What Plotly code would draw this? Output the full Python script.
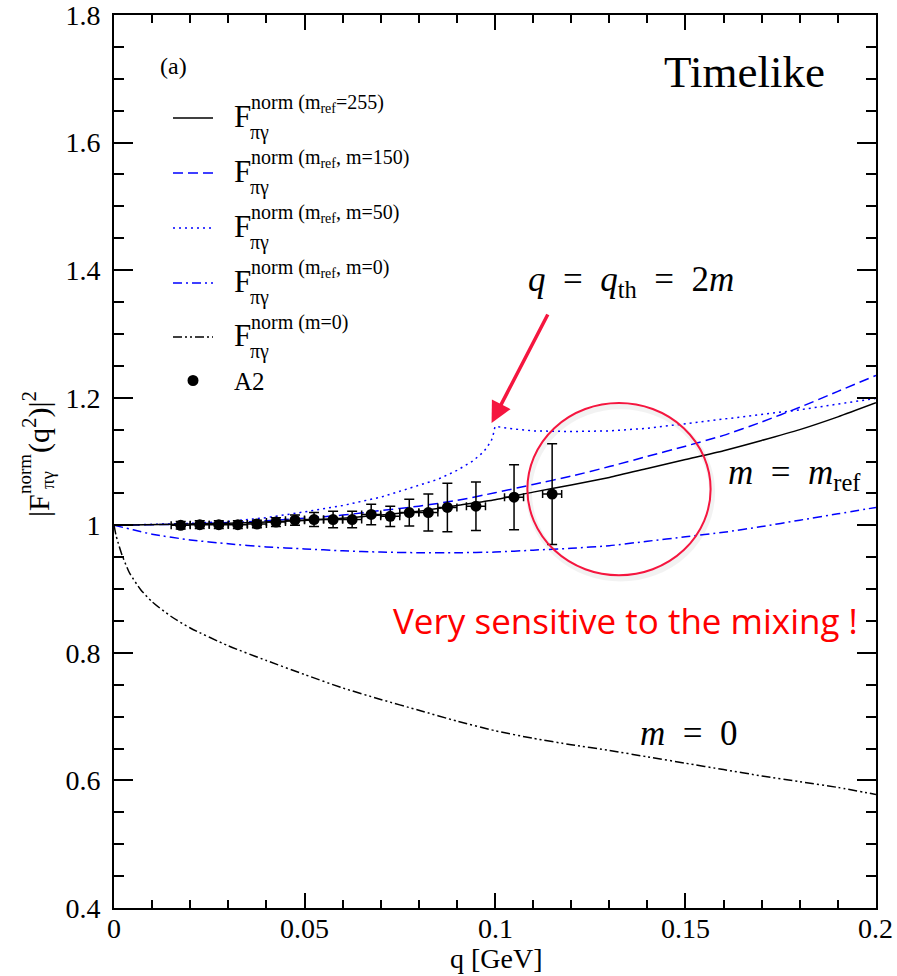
import plotly.graph_objects as go

# ---------------- data ----------------
# A2 data points
a2_q  = [0.0175, 0.0225, 0.0275, 0.0325, 0.0375, 0.0425, 0.0475, 0.0525, 0.0575,
         0.0625, 0.0675, 0.0725, 0.0775, 0.0825, 0.0875, 0.095, 0.105, 0.115]
a2_F  = [1.000, 1.001, 1.001, 1.001, 1.002, 1.005, 1.008, 1.009, 1.009,
         1.009, 1.017, 1.014, 1.020, 1.020, 1.028, 1.030, 1.044, 1.049]
a2_dF = [0.006, 0.006, 0.006, 0.006, 0.006, 0.007, 0.008, 0.011, 0.013,
         0.013, 0.016, 0.016, 0.021, 0.029, 0.038, 0.038, 0.051, 0.079]
a2_dq = [0.0025, 0.0025, 0.0025, 0.0025, 0.0025, 0.0025, 0.0025, 0.0025, 0.0025,
         0.0025, 0.0025, 0.0025, 0.0025, 0.0025, 0.0025, 0.0025, 0.0025, 0.0025]

# F^norm (m_ref = 255)  -- solid black
q_ref = [0.0, 0.02, 0.04, 0.06, 0.07, 0.08, 0.09, 0.10, 0.11, 0.12, 0.13, 0.14,
         0.15, 0.16, 0.17, 0.18, 0.19, 0.20]
F_ref = [1.000, 1.002, 1.005, 1.011, 1.016, 1.022, 1.031, 1.040, 1.052, 1.063, 1.075, 1.089,
         1.103, 1.117, 1.133, 1.150, 1.170, 1.192]

# F^norm (m_ref, m = 150)  -- dashed blue
q_150 = [0.0, 0.02, 0.04, 0.06, 0.07, 0.08, 0.09, 0.10, 0.11, 0.12, 0.13, 0.14,
         0.15, 0.16, 0.17, 0.18, 0.19, 0.20]
F_150 = [1.000, 1.002, 1.007, 1.016, 1.023, 1.030, 1.039, 1.051, 1.064, 1.077, 1.092, 1.108,
         1.124, 1.141, 1.162, 1.185, 1.210, 1.235]

# F^norm (m_ref, m = 50)  -- dotted blue, cusp at q = 2m = 0.1
q_50 = [0.0, 0.02, 0.03, 0.04, 0.05, 0.06, 0.07, 0.08, 0.085, 0.09, 0.094, 0.097,
        0.099, 0.0995, 0.100, 0.105, 0.11, 0.12, 0.13, 0.14, 0.15, 0.16, 0.17,
        0.18, 0.19, 0.20]
F_50 = [1.000, 1.003, 1.006, 1.012, 1.021, 1.031, 1.044, 1.062, 1.072, 1.086, 1.100, 1.115,
        1.132, 1.141, 1.155, 1.151, 1.148, 1.147, 1.148, 1.152, 1.159, 1.166, 1.173,
        1.181, 1.190, 1.199]

# F^norm (m_ref, m = 0)  -- dash-dot blue
q_m0r = [0.0, 0.005, 0.01, 0.02, 0.03, 0.04, 0.05, 0.06, 0.07, 0.08, 0.09, 0.10,
         0.11, 0.12, 0.13, 0.14, 0.15, 0.16, 0.17, 0.18, 0.19, 0.20]
F_m0r = [1.000, 0.993, 0.986, 0.977, 0.971, 0.966, 0.963, 0.960, 0.958, 0.957, 0.957, 0.958,
         0.961, 0.964, 0.968, 0.975, 0.982, 0.989, 0.998, 1.008, 1.018, 1.028]

# F^norm (m = 0)  -- dash-dot-dot black
q_m0 = [0.0, 0.0005, 0.001, 0.002, 0.004, 0.007, 0.01, 0.015, 0.02, 0.03, 0.04, 0.05, 0.06,
        0.07, 0.08, 0.09, 0.10, 0.11, 0.12, 0.13, 0.14, 0.15, 0.16, 0.17, 0.18,
        0.19, 0.20]
F_m0 = [1.000, 0.985, 0.974, 0.955, 0.926, 0.899, 0.880, 0.857, 0.839, 0.811, 0.788, 0.766, 0.745,
        0.727, 0.710, 0.693, 0.678, 0.666, 0.656, 0.647, 0.637, 0.627, 0.617, 0.607, 0.598,
        0.589, 0.578]

x_ticks = [0, 0.05, 0.1, 0.15, 0.2]
x_ticklabels = ["0", "0.05", "0.1", "0.15", "0.2"]
y_ticks = [0.4, 0.6, 0.8, 1.0, 1.2, 1.4, 1.6, 1.8]
y_ticklabels = ["0.4", "0.6", "0.8", "1", "1.2", "1.4", "1.6", "1.8"]

# ---------------- layout geometry (pixels) ----------------
FIG_W, FIG_H = 897, 976
L, R, T, B = 114, 876, 15, 908
PW, PH = R - L, B - T

def px(x):
    return (x - L) / PW

def py(y):
    return (B - y) / PH

SERIF = "Liberation Serif"
BLUE = "#0000ff"
RED = "#ff0000"
CRIMSON = "#f5163f"

DASH_150 = "10px,5px"
DOT_50 = "2px,4px"
DASHDOT = "9px,4px,2px,4px"
DASHDOTDOT = "9px,3px,2px,3px,2px,3px"

fig = go.Figure()

fig.add_trace(go.Scatter(x=q_m0, y=F_m0, mode="lines", line_shape="spline",
                         line=dict(color="black", width=1.5, dash=DASHDOTDOT, smoothing=0.6)))
fig.add_trace(go.Scatter(x=q_m0r, y=F_m0r, mode="lines", line_shape="spline",
                         line=dict(color=BLUE, width=1.5, dash=DASHDOT, smoothing=0.6)))
fig.add_trace(go.Scatter(x=q_50, y=F_50, mode="lines",
                         line=dict(color=BLUE, width=1.5, dash=DOT_50)))
fig.add_trace(go.Scatter(x=q_150, y=F_150, mode="lines", line_shape="spline",
                         line=dict(color=BLUE, width=1.5, dash=DASH_150, smoothing=0.6)))
fig.add_trace(go.Scatter(x=q_ref, y=F_ref, mode="lines", line_shape="spline",
                         line=dict(color="black", width=1.5, smoothing=0.6)))
fig.add_trace(go.Scatter(
    x=a2_q, y=a2_F, mode="markers",
    marker=dict(color="black", size=11, symbol="circle"),
    error_y=dict(type="data", array=a2_dF, visible=True, color="black",
                 thickness=1.5, width=5),
    error_x=dict(type="data", array=a2_dq, visible=True, color="black",
                 thickness=1.5, width=4),
))

shapes = []
annotations = []

# red circle (with faint shadow)
cx0, cx1 = 0.1085, 0.1566
cy0, cy1 = 0.9216, 1.1917
shapes.append(dict(type="circle", xref="x", yref="y",
                   x0=cx0 + 0.0004, x1=cx1 + 0.0004, y0=cy0 - 0.005, y1=cy1 - 0.005,
                   line=dict(color="rgba(0,0,0,0.05)", width=6), layer="below"))
shapes.append(dict(type="circle", xref="x", yref="y",
                   x0=cx0, x1=cx1, y0=cy0, y1=cy1,
                   line=dict(color=CRIMSON, width=2)))

# red arrow pointing to threshold
annotations.append(dict(x=0.0991, y=1.1604, xref="x", yref="y", text="",
                        showarrow=True, ax=57, ay=-110, arrowcolor=CRIMSON,
                        arrowwidth=3.5, arrowhead=2, arrowsize=1.2))

# texts
def ann(text, x, y, size, color="black", family=SERIF, xanchor="center", yanchor="middle", angle=0):
    annotations.append(dict(text=text, x=px(x), y=py(y), xref="paper", yref="paper",
                            showarrow=False, xanchor=xanchor, yanchor=yanchor,
                            textangle=angle,
                            font=dict(family=family, size=size, color=color)))

# x tick labels placed under the axis at the tick values
for v, t in zip(x_ticks, x_ticklabels):
    annotations.append(dict(text=t, x=v, y=py(911), xref="x", yref="paper",
                            showarrow=False, xanchor="center", yanchor="top",
                            font=dict(family=SERIF, size=28, color="black")))

SP = "\u2002"
ann("(a)", 173, 66, 24)
ann("Timelike", 744, 72, 45)
ann("<i>q</i>" + SP + "=" + SP + "<i>q</i><sub>th</sub>" + SP + "=" + SP + "2<i>m</i>", 631, 281, 35)
ann("<i>m</i>" + SP + "=" + SP + "<i>m</i><sub>ref</sub>", 794, 474, 35)
ann("<i>m</i>" + SP + "=" + SP + "0", 689, 733, 35)
ann("Very sensitive to the mixing !", 625, 620, 35, color=RED,
    family="Open Sans")

# x-axis title
ann("q [GeV]", 496, 959, 28)

# custom legend
leg_rows = [
    (118, dict(color="black", width=1.5), "norm (m<sub>ref</sub>=255)"),
    (173, dict(color=BLUE, width=1.5, dash=DASH_150), "norm (m<sub>ref</sub>, m=150)"),
    (228, dict(color=BLUE, width=1.5, dash=DOT_50), "norm (m<sub>ref</sub>, m=50)"),
    (283, dict(color=BLUE, width=1.5, dash=DASHDOT), "norm (m<sub>ref</sub>, m=0)"),
    (337, dict(color="black", width=1.5, dash=DASHDOTDOT), "norm (m=0)"),
]
for yy, lstyle, sup in leg_rows:
    shapes.append(dict(type="line", xref="paper", yref="paper",
                       x0=px(173), x1=px(213), y0=py(yy), y1=py(yy), line=lstyle))
    ann("F", 232, yy - 2, 31, xanchor="left")
    ann(sup, 249, yy - 15, 20, xanchor="left")
    ann("πγ", 248, yy + 14, 20, xanchor="left")
shapes.append(dict(type="circle", xref="paper", yref="paper",
                   x0=px(187.5), x1=px(198.5), y0=py(386), y1=py(375),
                   fillcolor="black", line=dict(color="black", width=0)))
ann("A2", 232, 381, 25, xanchor="left")

# y-axis title built from pieces (rotated)
ann("|F", 38, 506, 30, angle=-90)
ann("norm", 24, 474, 19, angle=-90)
ann("πγ", 48, 480, 19, angle=-90)
ann("(q<sup>2</sup>)|<sup>2</sup>", 36, 422, 30, angle=-90)

fig.update_layout(
    width=FIG_W, height=FIG_H, autosize=False,
    margin=dict(l=L, r=FIG_W - R, t=T, b=FIG_H - B, autoexpand=False),
    plot_bgcolor="white", paper_bgcolor="white",
    showlegend=False,
    shapes=shapes, annotations=annotations,
    font=dict(family=SERIF, color="black"),
    xaxis=dict(range=[-0.00001, 0.20001], tickvals=x_ticks, showticklabels=False,
               ticks="inside", ticklen=15, tickwidth=2, tickcolor="black",
               minor=dict(dtick=0.01, ticks="inside", ticklen=8, tickwidth=2, tickcolor="black"),
               showline=True, linecolor="black", linewidth=2, mirror="allticks",
               showgrid=False, zeroline=False, automargin=False),
    yaxis=dict(range=[0.39999, 1.80001], tickvals=y_ticks, ticktext=y_ticklabels,
               ticks="inside", ticklen=19, tickwidth=2, tickcolor="black",
               minor=dict(dtick=0.05, ticks="inside", ticklen=10, tickwidth=2, tickcolor="black"),
               showline=True, linecolor="black", linewidth=2, mirror="allticks",
               showgrid=False, zeroline=False, ticklabelstandoff=6, ticklabeloverflow="allow",
               automargin=False,
               tickfont=dict(family=SERIF, size=28, color="black")),
)

fig.write_html("out.html", config={"displayModeBar": False},
               post_script="document.body.style.margin='0px';document.body.style.overflow='hidden';")
